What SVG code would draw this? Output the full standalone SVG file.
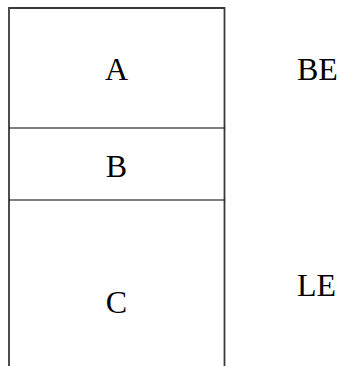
<svg xmlns="http://www.w3.org/2000/svg" width="338" height="366" viewBox="0 0 338 366">
<style>
.t{font-family:"Liberation Serif","Times New Roman",serif;font-size:32px;fill:#000}
.o{stroke:#3a3a3a;stroke-width:1.8;fill:none}
.d{stroke:#000;stroke-width:1.2;fill:none}
</style>
<rect width="338" height="366" fill="#fff"/>
<g id="connectors">
<path class="o" d="M9 366 V8 H224.5 V366"/>
<line class="d" x1="9" y1="128" x2="224.5" y2="128"/>
<line class="d" x1="9" y1="200" x2="224.5" y2="200"/>
</g>
<g id="A"><text class="t" x="116.5" y="80" text-anchor="middle">A</text></g>
<g id="B"><text class="t" x="116.5" y="177" text-anchor="middle">B</text></g>
<g id="C"><text class="t" x="116.5" y="313" text-anchor="middle">C</text></g>
<g id="BE"><text class="t" x="297" y="80">BE</text></g>
<g id="LE"><text class="t" x="297" y="296">LE</text></g>
</svg>
